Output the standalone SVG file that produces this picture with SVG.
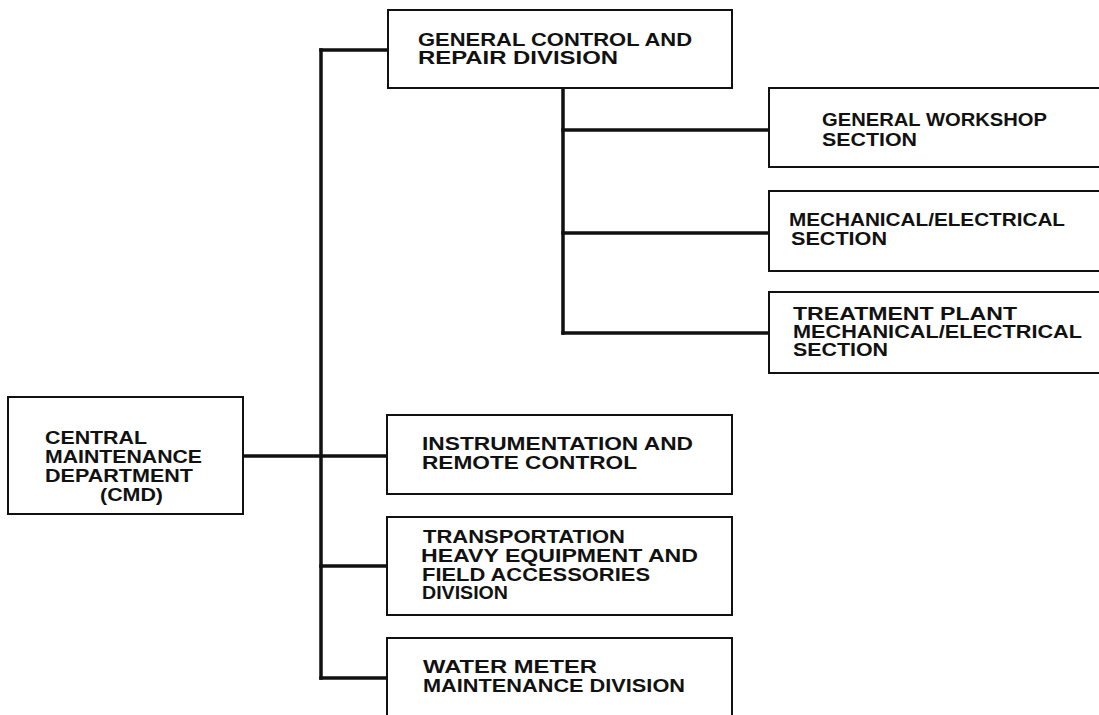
<svg xmlns="http://www.w3.org/2000/svg" width="1099" height="715" viewBox="0 0 1099 715">
<style>
.box{fill:#fff;stroke:#111;stroke-width:2}
.conn{stroke:#111;stroke-width:3.5;fill:none;stroke-linecap:square}
text{font-family:"Liberation Sans",Arial,sans-serif;font-weight:bold;font-size:18px;fill:#111}
</style>
<rect width="1099" height="715" fill="#fff"/>
<g id="connectors">
<path class="conn" d="M321,50 V678"/>
<path class="conn" d="M321,50 H388"/>
<path class="conn" d="M243,456 H388"/>
<path class="conn" d="M321,566 H388"/>
<path class="conn" d="M321,678 H388"/>
<path class="conn" d="M563,88 V333"/>
<path class="conn" d="M563,130 H769"/>
<path class="conn" d="M563,233 H769"/>
<path class="conn" d="M563,333 H769"/>
</g>
<g id="cmd">
<rect class="box" x="8" y="397" width="235" height="117"/>
<text x="45" y="444" textLength="102" lengthAdjust="spacingAndGlyphs">CENTRAL</text>
<text x="45" y="463" textLength="157" lengthAdjust="spacingAndGlyphs">MAINTENANCE</text>
<text x="45" y="482" textLength="148" lengthAdjust="spacingAndGlyphs">DEPARTMENT</text>
<text x="100" y="501" textLength="63" lengthAdjust="spacingAndGlyphs">(CMD)</text>
</g>
<g id="gcrd">
<rect class="box" x="388" y="10" width="344" height="78"/>
<text x="418" y="46" textLength="274" lengthAdjust="spacingAndGlyphs">GENERAL CONTROL AND</text>
<text x="418" y="64" textLength="200" lengthAdjust="spacingAndGlyphs">REPAIR DIVISION</text>
</g>
<g id="workshop">
<rect class="box" x="769" y="88" width="345" height="79"/>
<text x="822" y="126" textLength="225" lengthAdjust="spacingAndGlyphs">GENERAL WORKSHOP</text>
<text x="822" y="146" textLength="95" lengthAdjust="spacingAndGlyphs">SECTION</text>
</g>
<g id="mechelec">
<rect class="box" x="769" y="191" width="345" height="80"/>
<text x="789" y="226" textLength="276" lengthAdjust="spacingAndGlyphs">MECHANICAL/ELECTRICAL</text>
<text x="791" y="245" textLength="96" lengthAdjust="spacingAndGlyphs">SECTION</text>
</g>
<g id="treatment">
<rect class="box" x="769" y="292" width="345" height="81"/>
<text x="793" y="320" textLength="224" lengthAdjust="spacingAndGlyphs">TREATMENT PLANT</text>
<text x="793" y="338" textLength="289" lengthAdjust="spacingAndGlyphs">MECHANICAL/ELECTRICAL</text>
<text x="793" y="356" textLength="95" lengthAdjust="spacingAndGlyphs">SECTION</text>
</g>
<g id="instrumentation">
<rect class="box" x="387" y="415" width="345" height="79"/>
<text x="422" y="450" textLength="271" lengthAdjust="spacingAndGlyphs">INSTRUMENTATION AND</text>
<text x="422" y="469" textLength="215" lengthAdjust="spacingAndGlyphs">REMOTE CONTROL</text>
</g>
<g id="transportation">
<rect class="box" x="387" y="517" width="345" height="98"/>
<text x="423" y="543" textLength="202" lengthAdjust="spacingAndGlyphs">TRANSPORTATION</text>
<text x="421" y="562" textLength="277" lengthAdjust="spacingAndGlyphs">HEAVY EQUIPMENT AND</text>
<text x="422" y="581" textLength="228" lengthAdjust="spacingAndGlyphs">FIELD ACCESSORIES</text>
<text x="422" y="599" textLength="86" lengthAdjust="spacingAndGlyphs">DIVISION</text>
</g>
<g id="watermeter">
<rect class="box" x="387" y="638" width="345" height="90"/>
<text x="423" y="673" textLength="174" lengthAdjust="spacingAndGlyphs">WATER METER</text>
<text x="423" y="692" textLength="262" lengthAdjust="spacingAndGlyphs">MAINTENANCE DIVISION</text>
</g>
</svg>
